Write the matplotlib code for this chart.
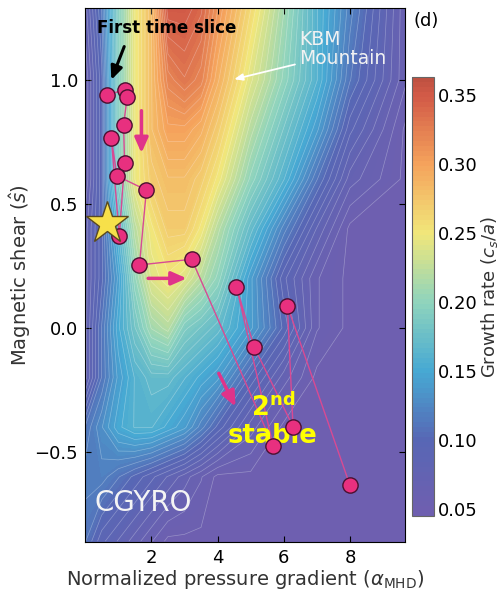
import numpy as np
import matplotlib
matplotlib.use("Agg")
import matplotlib.pyplot as plt
from matplotlib.colors import LinearSegmentedColormap

# growth-rate map (rows = shear, cols = alpha)
alpha_grid = [0, 0.5, 1, 1.5, 2, 2.5, 3, 3.5, 4, 5, 6, 7, 8, 9.7]
shear_grid = [-0.86, -0.6, -0.4, -0.2, 0.0, 0.2, 0.4, 0.6, 0.8, 1.0, 1.29]
gamma_grid = [
    [0.11, 0.09, 0.08, 0.07, 0.06, 0.05, 0.05, 0.05, 0.05, 0.05, 0.05, 0.05, 0.05, 0.05],
    [0.12, 0.12, 0.11, 0.10, 0.09, 0.08, 0.07, 0.06, 0.05, 0.05, 0.05, 0.05, 0.05, 0.05],
    [0.11, 0.13, 0.15, 0.16, 0.16, 0.15, 0.14, 0.12, 0.10, 0.07, 0.05, 0.05, 0.05, 0.05],
    [0.07, 0.11, 0.14, 0.16, 0.17, 0.17, 0.16, 0.15, 0.14, 0.10, 0.07, 0.05, 0.05, 0.05],
    [0.07, 0.11, 0.15, 0.18, 0.21, 0.22, 0.19, 0.18, 0.17, 0.14, 0.10, 0.06, 0.05, 0.05],
    [0.07, 0.10, 0.14, 0.20, 0.24, 0.25, 0.24, 0.22, 0.20, 0.14, 0.09, 0.06, 0.05, 0.05],
    [0.07, 0.10, 0.16, 0.22, 0.25, 0.27, 0.27, 0.25, 0.22, 0.17, 0.12, 0.08, 0.05, 0.05],
    [0.06, 0.10, 0.19, 0.245, 0.27, 0.28, 0.28, 0.27, 0.25, 0.20, 0.16, 0.11, 0.07, 0.05],
    [0.06, 0.10, 0.19, 0.245, 0.28, 0.30, 0.30, 0.29, 0.27, 0.22, 0.18, 0.14, 0.09, 0.05],
    [0.06, 0.10, 0.19, 0.245, 0.28, 0.32, 0.33, 0.32, 0.29, 0.24, 0.20, 0.16, 0.11, 0.06],
    [0.07, 0.11, 0.19, 0.245, 0.28, 0.35, 0.35, 0.34, 0.31, 0.26, 0.21, 0.16, 0.12, 0.06],
]

# trajectory of the discharge (time slices)
traj_alpha = [0.65, 1.20, 1.27, 1.16, 1.19, 1.03, 0.79, 0.96, 1.85, 1.64, 3.22, 5.68, 4.57, 5.10, 6.28, 6.11, 8.00]
traj_shear = [0.94, 0.96, 0.93, 0.82, 0.667, 0.37, 0.765, 0.613, 0.556, 0.254, 0.277, -0.476, 0.167, -0.075, -0.398, 0.089, -0.634]
star_alpha, star_shear = 0.66, 0.425

cb_ticks = [0.05, 0.10, 0.15, 0.20, 0.25, 0.30, 0.35]
vmin, vmax = 0.045, 0.363
cmap_values = [0.045, 0.05, 0.10, 0.15, 0.20, 0.25, 0.30, 0.35, 0.363]
cmap_colors = ["#6e5fb0", "#6e5fb0", "#5767b5", "#47a9d3", "#8fd4bd", "#f1e77a", "#f5a35c", "#d25a47", "#bd5040"]

cmap = LinearSegmentedColormap.from_list(
    "growth", [((v - vmin) / (vmax - vmin), c) for v, c in zip(cmap_values, cmap_colors)])

fig = plt.figure(figsize=(5.04, 5.93), dpi=100)
ax = fig.add_axes([0.169, 0.086, 0.635, 0.9005])
cax = fig.add_axes([0.817, 0.130, 0.044, 0.740])

A, S = np.meshgrid(alpha_grid, shear_grid)
G = np.clip(np.array(gamma_grid), vmin + 1e-4, vmax - 1e-4)
levels = np.linspace(vmin, vmax, 90)
cf = ax.contourf(A, S, G, levels=levels, cmap=cmap)
ax.contour(A, S, G, levels=levels[::2], colors="white", linewidths=0.5, alpha=0.3)

pink = "#e0338a"
ax.plot(traj_alpha, traj_shear, "-", color="#d84a93", lw=1.0, zorder=3)
ax.plot(traj_alpha, traj_shear, "o", ms=11, mfc="#e8307f", mec="#4a1030", mew=1.0, zorder=4)
ax.plot(star_alpha, star_shear, "*", ms=32, mfc="#f7e04a", mec="#5a4a20", mew=1.0, zorder=5)

# annotations
ax.annotate("", xy=(0.76, 0.99), xytext=(1.21, 1.145),
            arrowprops=dict(arrowstyle="-|>,head_length=0.8,head_width=0.35", color="black", lw=2.2))
ax.text(2.45, 1.21, "First time slice", fontsize=12, fontweight="bold", ha="center", va="center")
for (x0, y0, x1, y1) in [(1.70, 0.887, 1.70, 0.694), (1.82, 0.20, 3.15, 0.20), (4.0, -0.173, 4.58, -0.327)]:
    ax.annotate("", xy=(x1, y1), xytext=(x0, y0),
                arrowprops=dict(arrowstyle="-|>,head_length=0.9,head_width=0.4", color=pink, lw=2.5))
ax.annotate("", xy=(4.42, 1.0), xytext=(6.42, 1.065),
            arrowprops=dict(arrowstyle="-|>,head_length=0.5,head_width=0.2", color="white", lw=1.3))
ax.text(6.45, 1.125, "KBM\nMountain", color="#f2f2f2", fontsize=13.5, ha="left", va="center", linespacing=1.05)
ax.text(0.27, -0.706, "CGYRO", color="#f4f4f4", fontsize=20, ha="left", va="center")
ax.text(5.67, -0.375, "2$^{\\mathbf{nd}}$\nstable", color="#ffff00", fontsize=18.5, fontweight="bold",
        ha="center", va="center", linespacing=1.05)

ax.set_xlim(0, 9.67)
ax.set_ylim(-0.863, 1.29)
ax.set_xticks([2, 4, 6, 8])
ax.set_yticks([-0.5, 0.0, 0.5, 1.0])
ax.tick_params(direction="in", top=True, right=True, labelsize=13, length=4, pad=5)
ax.set_xlabel("Normalized pressure gradient ($\\alpha_{\\rm MHD}$)", fontsize=14, color="#333333", labelpad=1)
ax.set_ylabel("Magnetic shear ($\\hat{s}$)", fontsize=14, color="#333333", labelpad=1)

cb = fig.colorbar(cf, cax=cax, ticks=cb_ticks)
cb.ax.tick_params(labelsize=13, length=0, pad=3)
cb.set_label("Growth rate ($c_s/a$)", fontsize=13, color="#333333", labelpad=1)
cb.outline.set_edgecolor("#666666")

fig.text(0.845, 0.965, "(d)", fontsize=13, ha="center", va="center")

fig.savefig("out.png", dpi=100)
